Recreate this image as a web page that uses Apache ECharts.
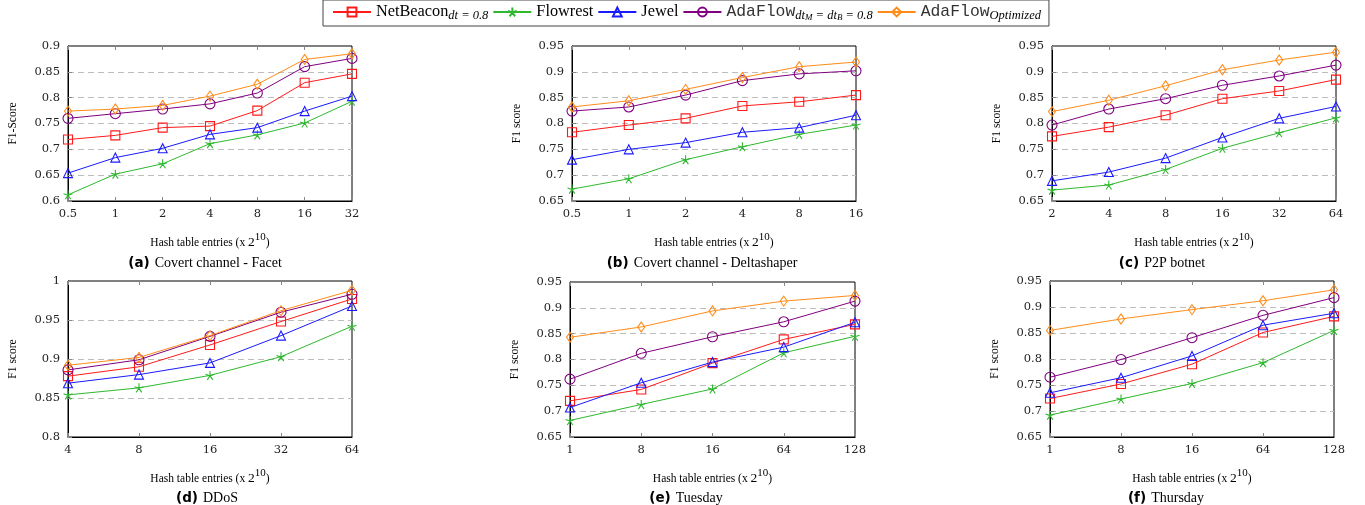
<!DOCTYPE html>
<html><head><meta charset="utf-8">
<script src="https://cdn.jsdelivr.net/npm/echarts@6/dist/echarts.min.js"></script>
<style>html,body{margin:0;padding:0;background:#fff}#c{width:1365px;height:505px}</style>
</head><body><div id="c"></div>
<script>
// ---------------- data ----------------
const seriesNames = ['NetBeacon', 'Flowrest', 'Jewel', 'AdaFlow', 'AdaFlowOptimized'];

// (a) Covert channel - Facet
const aX = ['0.5', '1', '2', '4', '8', '16', '32'];
const aNet = [0.719, 0.727, 0.742, 0.745, 0.775, 0.829, 0.846];
const aFlow = [0.612, 0.652, 0.672, 0.711, 0.728, 0.751, 0.793];
const aJewel = [0.654, 0.684, 0.702, 0.729, 0.742, 0.774, 0.803];
const aAda = [0.760, 0.769, 0.778, 0.788, 0.809, 0.860, 0.876];
const aOpt = [0.774, 0.778, 0.785, 0.803, 0.826, 0.874, 0.885];

// (b) Covert channel - Deltashaper
const bX = ['0.5', '1', '2', '4', '8', '16'];
const bNet = [0.783, 0.797, 0.810, 0.834, 0.842, 0.855];
const bFlow = [0.673, 0.693, 0.730, 0.755, 0.779, 0.797];
const bJewel = [0.730, 0.750, 0.763, 0.783, 0.792, 0.816];
const bAda = [0.824, 0.832, 0.855, 0.883, 0.896, 0.902];
const bOpt = [0.832, 0.844, 0.866, 0.889, 0.910, 0.919];

// (c) P2P botnet
const cX = ['2', '4', '8', '16', '32', '64'];
const cNet = [0.775, 0.793, 0.816, 0.848, 0.863, 0.885];
const cFlow = [0.671, 0.681, 0.711, 0.752, 0.782, 0.811];
const cJewel = [0.689, 0.706, 0.733, 0.773, 0.810, 0.833];
const cAda = [0.797, 0.828, 0.848, 0.874, 0.892, 0.913];
const cOpt = [0.823, 0.845, 0.873, 0.904, 0.923, 0.938];

// (d) DDoS
const dX = ['4', '8', '16', '32', '64'];
const dNet = [0.878, 0.890, 0.918, 0.948, 0.977];
const dFlow = [0.854, 0.863, 0.879, 0.903, 0.942];
const dJewel = [0.869, 0.880, 0.895, 0.930, 0.968];
const dAda = [0.886, 0.899, 0.929, 0.960, 0.983];
const dOpt = [0.892, 0.902, 0.930, 0.962, 0.988];

// (e) Tuesday
const eX = ['1', '8', '16', '64', '128'];
const eNet = [0.720, 0.742, 0.793, 0.839, 0.868];
const eFlow = [0.682, 0.713, 0.743, 0.813, 0.845];
const eJewel = [0.707, 0.755, 0.795, 0.824, 0.872];
const eAda = [0.762, 0.812, 0.844, 0.873, 0.913];
const eOpt = [0.843, 0.863, 0.894, 0.913, 0.924];

// (f) Thursday
const fX = ['1', '8', '16', '64', '128'];
const fNet = [0.724, 0.752, 0.790, 0.851, 0.882];
const fFlow = [0.692, 0.723, 0.753, 0.793, 0.855];
const fJewel = [0.735, 0.764, 0.806, 0.865, 0.888];
const fAda = [0.765, 0.799, 0.841, 0.884, 0.918];
const fOpt = [0.855, 0.877, 0.895, 0.912, 0.933];

const yRanges = [[0.6, 0.9], [0.65, 0.95], [0.65, 0.95], [0.8, 1.0], [0.65, 0.95], [0.65, 0.95]];
const yNames = ['F1-Score', 'F1 score', 'F1 score', 'F1 score', 'F1 score', 'F1 score'];
const titleLetters = ['(a)', '(b)', '(c)', '(d)', '(e)', '(f)'];
const titleTexts = ['Covert channel - Facet', 'Covert channel - Deltashaper', 'P2P botnet', 'DDoS', 'Tuesday', 'Thursday'];

// ---------------- layout / style ----------------
const panels = [
  {x: aX, d: [aNet, aFlow, aJewel, aAda, aOpt]},
  {x: bX, d: [bNet, bFlow, bJewel, bAda, bOpt]},
  {x: cX, d: [cNet, cFlow, cJewel, cAda, cOpt]},
  {x: dX, d: [dNet, dFlow, dJewel, dAda, dOpt]},
  {x: eX, d: [eNet, eFlow, eJewel, eAda, eOpt]},
  {x: fX, d: [fNet, fFlow, fJewel, fAda, fOpt]}
];
const grids = [
  {left: 68, top: 46, width: 284, height: 155},
  {left: 572, top: 46, width: 284, height: 155},
  {left: 1052, top: 46, width: 284, height: 155},
  {left: 68, top: 281, width: 284, height: 156},
  {left: 570, top: 282, width: 285, height: 155},
  {left: 1050, top: 281, width: 284, height: 156}
];
const titlePos = [[205, 254], [702, 254], [1162, 254], [207, 489], [686, 489], [1166, 489]];

const colors = ['#ff1a1a', '#2eb82e', '#1a1aff', '#800080', '#ff8c1a'];
const starPath = 'path://M0,0L0,-5M0,0L4.755,-1.545M0,0L2.939,4.045M0,0L-2.939,4.045M0,0L-4.755,-1.545';
const symbols = ['rect', starPath, 'triangle', 'circle', 'diamond'];
const symbolSizes = [9, 9, 9, 10, [7, 10]];

const SERIF = 'Liberation Serif';
const TICK = 'DejaVu Serif';
const MONO = 'Liberation Mono';
const NB = '\u00a0';

const option = {
  animation: false,
  backgroundColor: '#fff',
  title: titleLetters.map((l, i) => ({
    text: '{b|' + l + '} {t|' + titleTexts[i] + '}',
    left: titlePos[i][0], top: titlePos[i][1], textAlign: 'center', padding: 0,
    textStyle: {
      fontWeight: 'normal',
      rich: {
        b: {fontFamily: 'DejaVu Sans', fontWeight: 'bold', fontSize: 13.5, color: '#000'},
        t: {fontFamily: SERIF, fontWeight: 'normal', fontSize: 14, color: '#000'}
      }
    }
  })),
  legend: {
    data: seriesNames,
    left: 323, top: 0,
    padding: [4, 8, 4, 9],
    itemGap: 4, itemWidth: 38, itemHeight: 11,
    borderColor: '#444', borderWidth: 1,
    formatter: function (name) {
      if (name === 'NetBeacon') return '{n|NetBeacon}{s|dt' + NB + '=' + NB + '0.8}';
      if (name === 'Flowrest') return '{n|Flowrest}';
      if (name === 'Jewel') return '{n|Jewel}';
      if (name === 'AdaFlow') return '{m|AdaFlow}{s|dt}{ss|M}{s|' + NB + '=' + NB + 'dt}{ss|B}{s|' + NB + '=' + NB + '0.8}';
      return '{m|AdaFlow}{s|Optimized}';
    },
    textStyle: {
      rich: {
        n: {fontFamily: SERIF, fontSize: 16.3, color: '#000', lineHeight: 20},
        m: {fontFamily: MONO, fontSize: 16.4, color: '#333', lineHeight: 20},
        s: {fontFamily: SERIF, fontStyle: 'italic', fontSize: 12.5, color: '#000', lineHeight: 13, verticalAlign: 'bottom'},
        ss: {fontFamily: SERIF, fontStyle: 'italic', fontSize: 9, color: '#000', lineHeight: 9, verticalAlign: 'bottom'}
      }
    }
  },
  grid: grids.map(g => Object.assign({show: true, borderColor: '#000', borderWidth: 1, backgroundColor: 'transparent'}, g)),
  xAxis: [],
  yAxis: [],
  series: []
};

panels.forEach((p, i) => {
  option.xAxis.push({
    gridIndex: i, type: 'category', data: p.x, boundaryGap: false,
    axisLine: {show: true, lineStyle: {color: '#000', width: 1}},
    axisTick: {show: true, inside: true, length: 4, lineStyle: {color: '#888'}},
    axisLabel: {fontFamily: TICK, fontSize: 11.5, color: '#222', margin: 7},
    splitLine: {show: false},
    name: '{t|Hash table entries (x }{b|2}{sup|10}{t|)}',
    nameLocation: 'middle', nameGap: 31,
    nameTextStyle: {
      rich: {
        t: {fontFamily: SERIF, fontSize: 11.5, color: '#000', lineHeight: 17, verticalAlign: 'bottom'},
        b: {fontFamily: SERIF, fontSize: 13.5, color: '#000', lineHeight: 17, verticalAlign: 'bottom'},
        sup: {fontFamily: SERIF, fontSize: 11, color: '#000', lineHeight: 11, verticalAlign: 'top'}
      }
    }
  });
  option.xAxis.push({
    gridIndex: i, type: 'category', data: p.x, boundaryGap: false, position: 'top',
    axisLine: {show: false},
    axisTick: {show: true, inside: true, length: 4, lineStyle: {color: '#888'}},
    axisLabel: {show: false}, splitLine: {show: false}
  });
  const [mn, mx] = yRanges[i];
  option.yAxis.push({
    gridIndex: i, type: 'value', min: mn, max: mx, interval: 0.05,
    axisLine: {show: true, lineStyle: {color: '#000'}},
    axisTick: {show: true, inside: true, length: 4, lineStyle: {color: '#888'}},
    axisLabel: {fontFamily: TICK, fontSize: 11.5, color: '#222', margin: 8,
      formatter: v => String(+v.toFixed(2))},
    splitLine: {show: true, showMinLine: false, showMaxLine: false,
      lineStyle: {type: [6, 4], color: '#bdbdbd', width: 1}},
    name: yNames[i], nameLocation: 'middle', nameGap: 49,
    nameTextStyle: {fontFamily: SERIF, fontSize: 11.5, color: '#000'}
  });
  p.d.forEach((vals, k) => {
    option.series.push({
      name: seriesNames[k], type: 'line',
      xAxisIndex: i * 2, yAxisIndex: i,
      data: vals,
      symbol: symbols[k], symbolSize: symbolSizes[k], showAllSymbol: true,
      lineStyle: {color: colors[k], width: 1},
      itemStyle: {color: 'rgba(255,255,255,0)', borderColor: colors[k], borderWidth: 1.1},
      emphasis: {disabled: true},
      z: 2 + k
    });
  });
});

const chart = echarts.init(document.getElementById('c'), null, {renderer: 'canvas'});
chart.setOption(option);
</script>
</body></html>
